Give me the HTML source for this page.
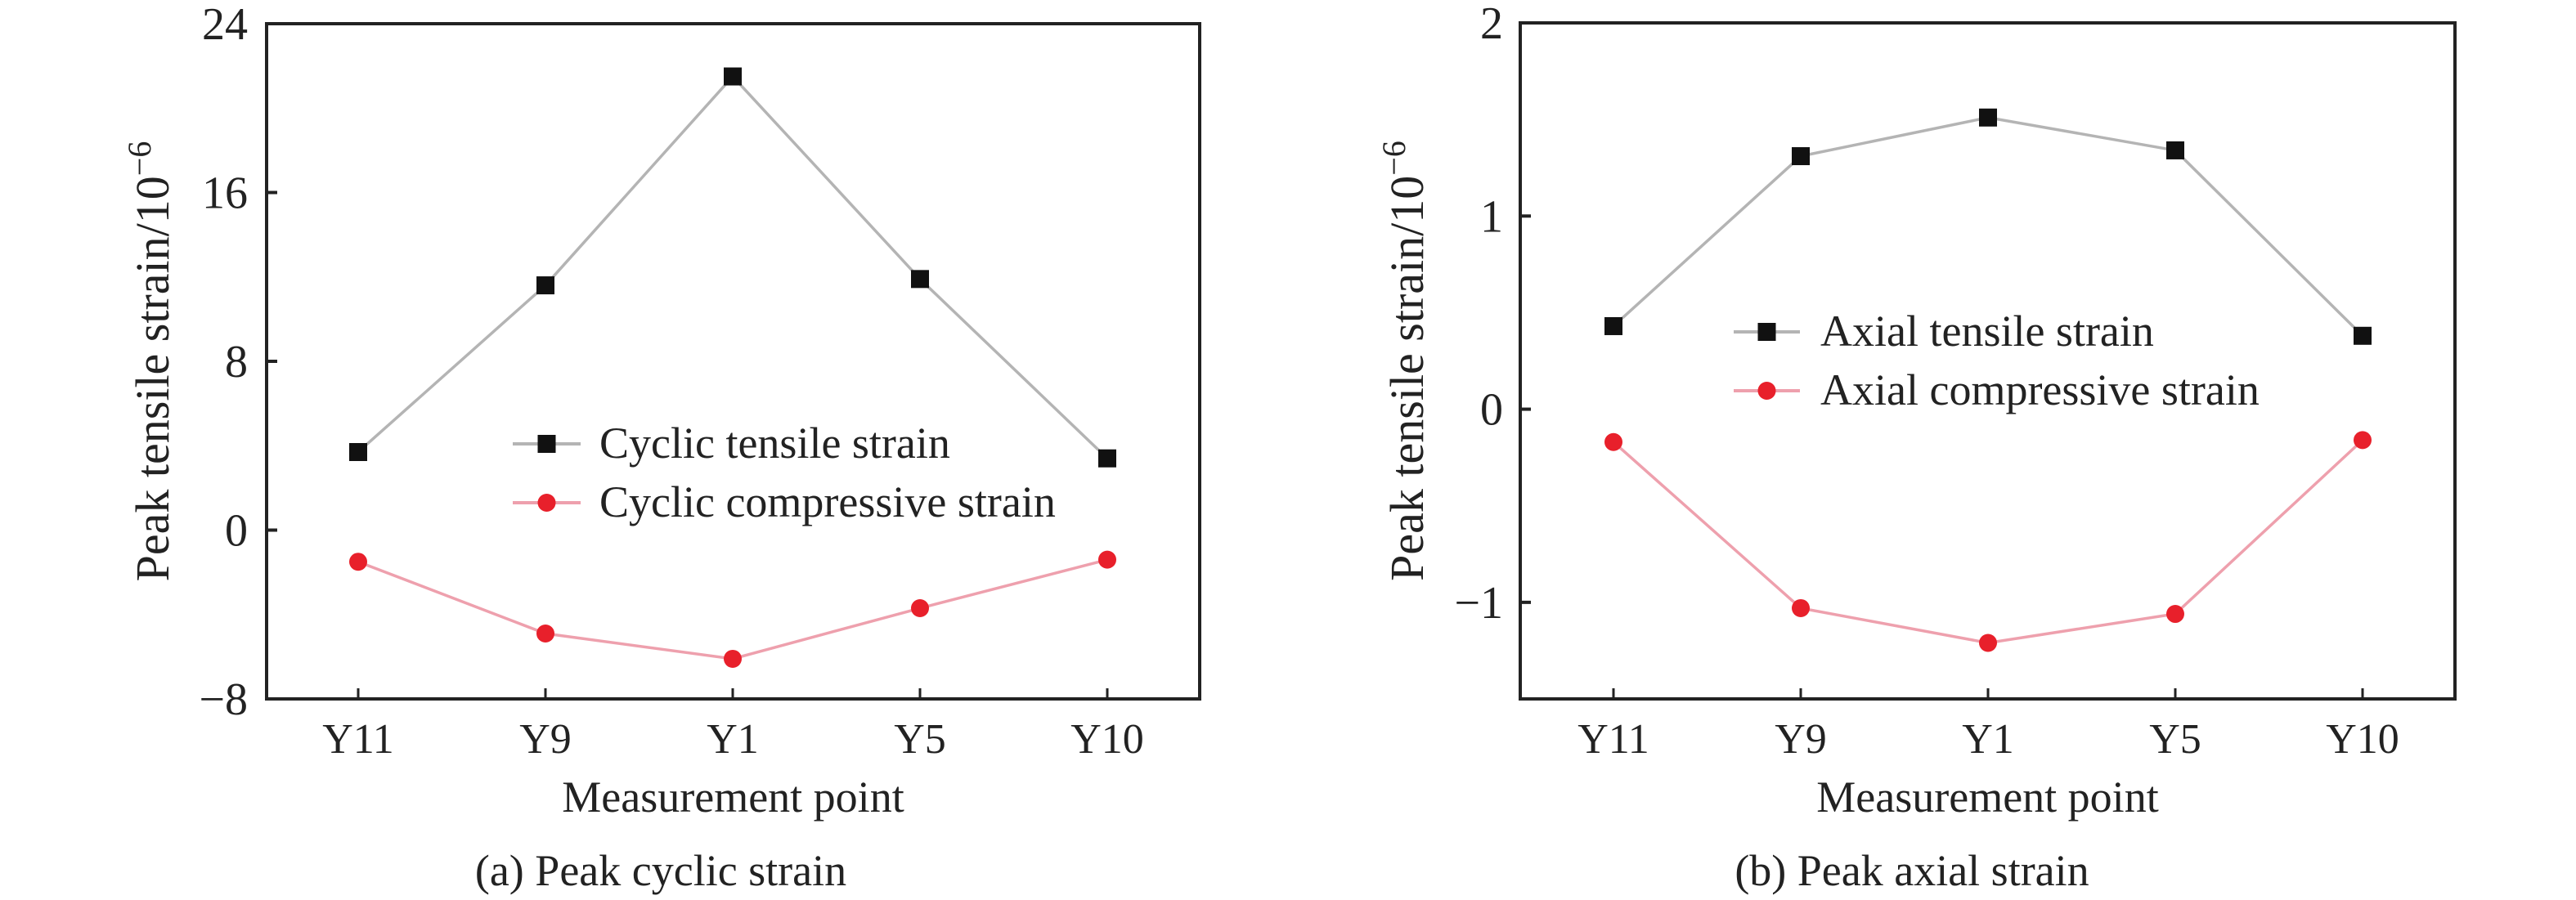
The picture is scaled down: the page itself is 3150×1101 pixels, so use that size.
<!DOCTYPE html>
<html><head><meta charset="utf-8"><style>
html,body{margin:0;padding:0;background:#fff;}
svg{display:block;}
svg text{font-family:"Liberation Serif","Times New Roman",serif;}
</style></head><body>
<svg id="fig" width="3150" height="1101" viewBox="0 0 3150 1101" xmlns="http://www.w3.org/2000/svg"></svg>
<script>
const categories = ["Y11","Y9","Y1","Y5","Y10"];
const cyclicTensile = [3.7, 11.6, 21.5, 11.9, 3.4];
const cyclicCompressive = [-1.5, -4.9, -6.1, -3.7, -1.4];
const axialTensile = [0.43, 1.31, 1.51, 1.34, 0.38];
const axialCompressive = [-0.17, -1.03, -1.21, -1.06, -0.16];
const leftTicks = [24, 16, 8, 0, -8];
const leftTickLabels = ["24","16","8","0","\u22128"];
const rightTicks = [2, 1, 0, -1];
const rightTickLabels = ["2","1","0","\u22121"];

const NS = "http://www.w3.org/2000/svg";
const svg = document.getElementById("fig");
const FONT = '"Liberation Serif", serif';
function mk(tag, attrs, parent){
  const e = document.createElementNS(NS, tag);
  for (const k in attrs) e.setAttribute(k, attrs[k]);
  if (tag === "text") e.setAttribute("font-family", FONT);
  (parent||svg).appendChild(e);
  return e;
}

function drawPanel(cfg){
  const g = mk("g", {});
  
  
  const x0 = cfg.left, x1 = cfg.right, yTop = cfg.top, yBot = cfg.bottom;
  const xScale = i => cfg.firstX + i * cfg.stepX;
  const yScale = v => yBot - (v - cfg.yMin) / (cfg.yMax - cfg.yMin) * (yBot - yTop);

  const series = [
    {vals: cfg.tens, line: "#b4b4b4", kind: "square", name: "tensile"},
    {vals: cfg.comp, line: "#eea0ad", kind: "circle", name: "compressive"}
  ];
  series.forEach(s => {
    const pts = s.vals.map((v,i) => xScale(i) + "," + yScale(v)).join(" ");
    const pl = mk("polyline", {points: pts, fill: "none", stroke: s.line, "stroke-width": 3.5}, g);
    
    
    s.vals.forEach((v,i) => {
      let m;
      if (s.kind === "square") {
        m = mk("rect", {x: xScale(i)-11, y: yScale(v)-11, width: 22, height: 22, fill: "#111"}, g);
      } else {
        m = mk("circle", {cx: xScale(i), cy: yScale(v), r: 11, fill: "#e8202b"}, g);
      }
      
      
    });
  });

  const fr = mk("rect", {x: x0, y: yTop, width: x1-x0, height: yBot-yTop, fill: "none", stroke: "#222", "stroke-width": 4}, g);
  
  

  cfg.yTicks.forEach((t,i) => {
    const y = yScale(t);
    if (y > yTop + 2 && y < yBot - 2) {
      const tk = mk("line", {x1: x0, x2: x0+13, y1: y, y2: y, stroke: "#222", "stroke-width": 4}, g);
      
      
    }
    const tx = mk("text", {x: cfg.tickRight, y: y + 19, "text-anchor": "end", "font-size": 56, fill: "#222"}, g);
    tx.textContent = cfg.yTickLabels[i];
    
    
  });

  categories.forEach((c,i) => {
    const x = xScale(i);
    const tk = mk("line", {x1: x, x2: x, y1: yBot, y2: yBot-13, stroke: "#222", "stroke-width": 3}, g);
    
    
    const tx = mk("text", {x: x, y: 921, "text-anchor": "middle", "font-size": 52, fill: "#222"}, g);
    tx.textContent = c;
    
    
  });

  const xt = mk("text", {x: (x0+x1)/2, y: 993, "text-anchor": "middle", "font-size": 54, fill: "#222"}, g);
  xt.textContent = "Measurement point";
  
  

  const yt = mk("text", {x: 0, y: 0, "text-anchor": "middle", "font-size": 58, fill: "#222",
    transform: "translate(" + (cfg.yTitleX) + "," + ((yTop+yBot)/2) + ") rotate(-90)"}, g);
  yt.textContent = "Peak tensile strain/10";
  const sup = mk("tspan", {dy: -22, "font-size": 40}, yt);
  sup.textContent = "\u22126";
  
  

  const lg = mk("g", {}, g);
  
  
  const L = cfg.legend;
  [[L.y1, "#b4b4b4", "square", cfg.labels[0]], [L.y2, "#eea0ad", "circle", cfg.labels[1]]].forEach((e, k) => {
    const eg = mk("g", {}, lg);
    
    
    mk("line", {x1: L.x1, x2: L.x2, y1: e[0], y2: e[0], stroke: e[1], "stroke-width": 4}, eg);
    const cx = (L.x1 + L.x2)/2;
    if (e[2] === "square") mk("rect", {x: cx-11, y: e[0]-11, width: 22, height: 22, fill: "#111"}, eg);
    else mk("circle", {cx: cx, cy: e[0], r: 11, fill: "#e8202b"}, eg);
    const t = mk("text", {x: L.tx, y: e[0] + 17, "font-size": 54, fill: "#222"}, eg);
    t.textContent = e[3];
  });

  const cap = mk("text", {x: cfg.capX, y: 1083, "text-anchor": "middle", "font-size": 54, fill: "#222"}, g);
  cap.textContent = cfg.caption;
  
  
}

drawPanel({
  name: "cyclic-strain-chart", left: 326, right: 1467, top: 29, bottom: 855,
  firstX: 438, stepX: 229, yMin: -8, yMax: 24,
  tens: cyclicTensile, comp: cyclicCompressive,
  yTicks: leftTicks, yTickLabels: leftTickLabels, tickRight: 303, yTitleX: 206,
  legend: {x1: 627, x2: 710, y1: 543, y2: 615, tx: 733},
  labels: ["Cyclic tensile strain", "Cyclic compressive strain"],
  caption: "(a) Peak cyclic strain", capX: 808
});
drawPanel({
  name: "axial-strain-chart", left: 1859, right: 3002, top: 28, bottom: 855,
  firstX: 1973, stepX: 229, yMin: -1.5, yMax: 2,
  tens: axialTensile, comp: axialCompressive,
  yTicks: rightTicks, yTickLabels: rightTickLabels, tickRight: 1838, yTitleX: 1740,
  legend: {x1: 2120, x2: 2201, y1: 406, y2: 478, tx: 2226},
  labels: ["Axial tensile strain", "Axial compressive strain"],
  caption: "(b) Peak axial strain", capX: 2338
});
</script>
</body></html>
